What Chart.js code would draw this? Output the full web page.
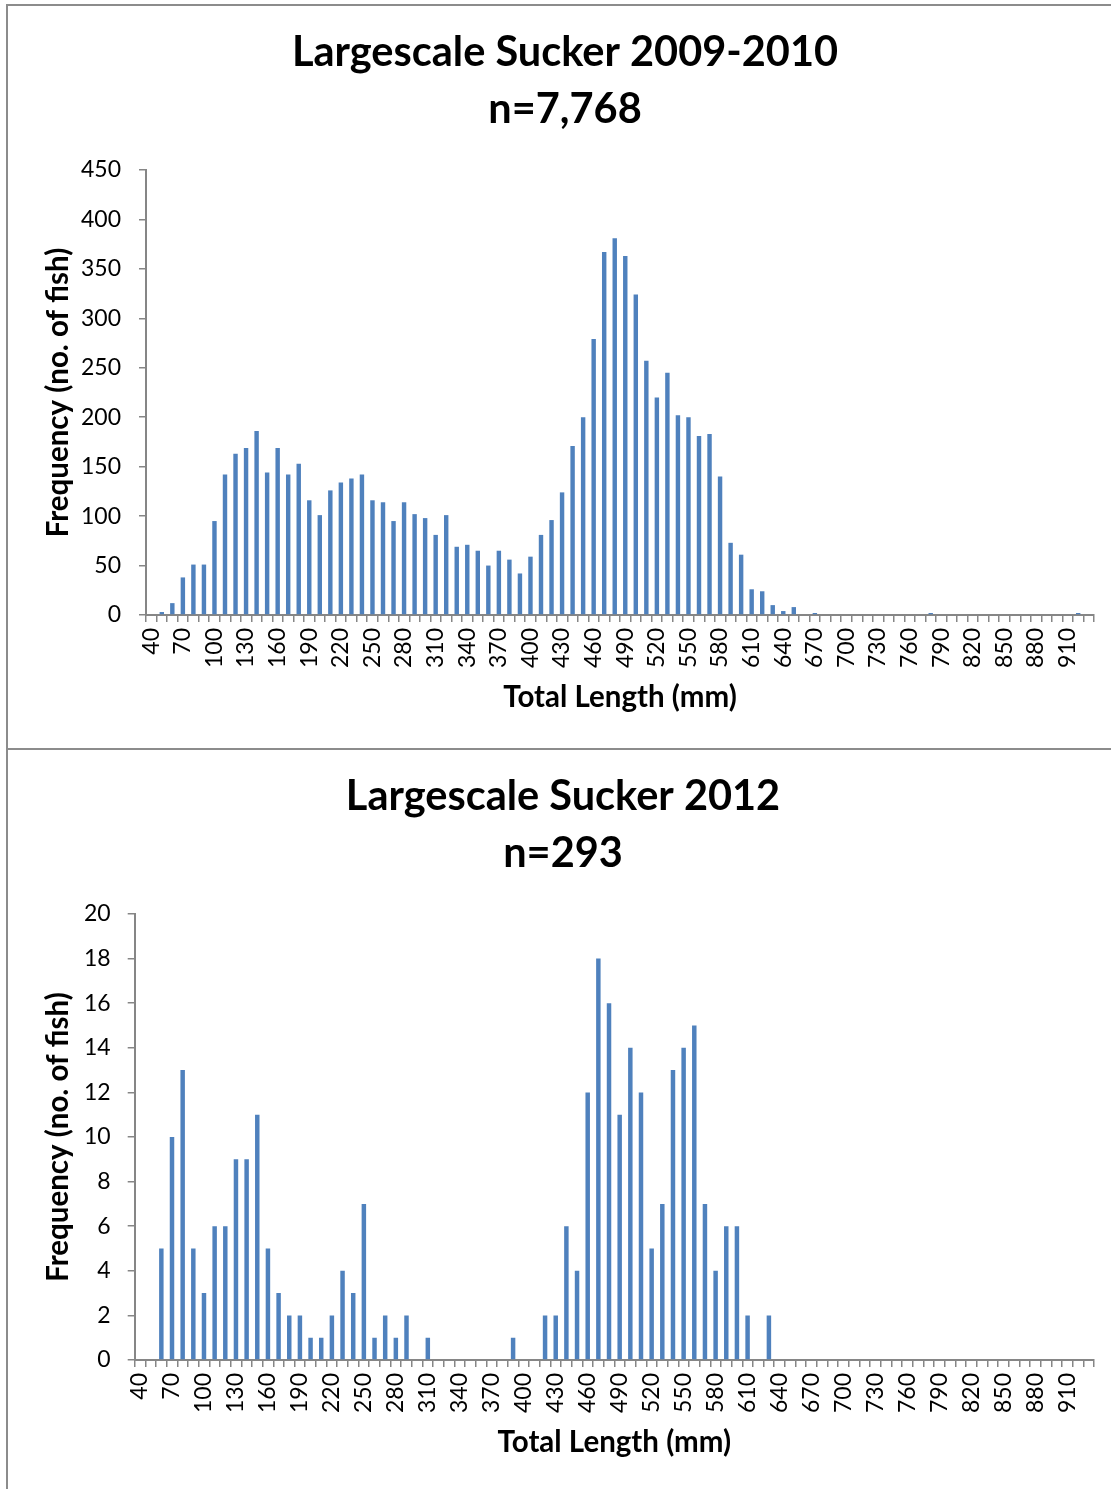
<!DOCTYPE html>
<html>
<head>
<meta charset="utf-8">
<title>Largescale Sucker length frequency</title>
<script src="https://cdn.jsdelivr.net/npm/chart.js@4.4.1/dist/chart.umd.min.js"></script>
<style>
  body { margin: 0; background: #fff; width: 1111px; height: 1489px; overflow: hidden; position: relative; }
  .frame { position: absolute; border: 2px solid #8c8c8c; box-sizing: border-box; }
  canvas { position: absolute; }
</style>
</head>
<body>
<div class="frame" style="left:6px;top:4px;width:1130px;height:746px"></div>
<div class="frame" style="left:6px;top:748px;width:1130px;height:760px"></div>
<canvas id="sucker_0910" width="1104" height="745" style="left:7px;top:4px"></canvas>
<canvas id="sucker_2012" width="1104" height="740" style="left:7px;top:749px"></canvas>
<script>
// total length bins (mm)
const lengths = [40, 50, 60, 70, 80, 90, 100, 110, 120, 130, 140, 150, 160, 170, 180, 190, 200, 210, 220, 230,
    240, 250, 260, 270, 280, 290, 300, 310, 320, 330, 340, 350, 360, 370, 380, 390, 400, 410, 420, 430,
    440, 450, 460, 470, 480, 490, 500, 510, 520, 530, 540, 550, 560, 570, 580, 590, 600, 610, 620, 630,
    640, 650, 660, 670, 680, 690, 700, 710, 720, 730, 740, 750, 760, 770, 780, 790, 800, 810, 820, 830,
    840, 850, 860, 870, 880, 890, 900, 910, 920, 930];

// number of fish per bin, 2009-2010 (n=7,768)
const fish_0910 = [0, 3, 12, 38, 51, 51, 95, 142, 163, 169, 186, 144, 169, 142, 153, 116, 101, 126, 134, 138,
    142, 116, 114, 95, 114, 102, 98, 81, 101, 69, 71, 65, 50, 65, 56, 42, 59, 81, 96, 124,
    171, 200, 279, 367, 381, 363, 324, 257, 220, 245, 202, 200, 181, 183, 140, 73, 61, 26, 24, 10,
    4, 8, 0, 2, 0, 0, 0, 0, 0, 0, 0, 0, 0, 0, 2, 0, 0, 0, 0, 0,
    0, 0, 0, 0, 0, 0, 0, 0, 2, 0];

// number of fish per bin, 2012 (n=293)
const fish_2012 = [0, 0, 5, 10, 13, 5, 3, 6, 6, 9, 9, 11, 5, 3, 2, 2, 1, 1, 2, 4,
    3, 7, 1, 2, 1, 2, 0, 1, 0, 0, 0, 0, 0, 0, 0, 1, 0, 0, 2, 2,
    6, 4, 12, 18, 16, 11, 14, 12, 5, 7, 13, 14, 15, 7, 4, 6, 6, 2, 0, 2,
    0, 0, 0, 0, 0, 0, 0, 0, 0, 0, 0, 0, 0, 0, 0, 0, 0, 0, 0, 0,
    0, 0, 0, 0, 0, 0, 0, 0, 0, 0];

const title_0910 = ["Largescale Sucker 2009-2010", "n=7,768"];
const title_2012 = ["Largescale Sucker 2012", "n=293"];
const x_title = "Total Length (mm)";
const y_title = "Frequency (no. of fish)";

Chart.defaults.font.family = "Lato";
Chart.defaults.color = "#000";

function length_chart(id, titleText, values, yMax, yStep, s) {
    return new Chart(id, {
        type: "bar",
        data: {
            labels: lengths,
            datasets: [{
                data: values,
                backgroundColor: "#4f81bd",
                borderWidth: 0,
                barPercentage: 0.42,
                categoryPercentage: 1
            }]
        },
        options: {
            responsive: false,
            animation: false,
            devicePixelRatio: 1,
            layout: { padding: { left: s.padLeft, right: 17, top: 0, bottom: 0 } },
            plugins: {
                legend: { display: false },
                tooltip: { enabled: false },
                title: {
                    display: true,
                    text: titleText,
                    color: "#000",
                    font: { size: 41.5, weight: "bold", lineHeight: "57px" },
                    padding: { top: s.titleTop, bottom: s.titleBottom }
                }
            },
            scales: {
                x: {
                    afterFit: function (scale) {
                        scale.height = s.xHeight;
                        // keep the plot edge fixed, labels may hang over
                        scale.paddingLeft = 0;
                        scale.paddingRight = 0;
                    },
                    grid: { offset: true, drawOnChartArea: false, tickLength: 7, color: "#868686", lineWidth: 1.5 },
                    border: { color: "#868686", width: 2 },
                    ticks: {
                        autoSkip: false,
                        minRotation: 90,
                        maxRotation: 90,
                        padding: 6,
                        font: { size: 23 },
                        callback: function (v, i) { return i % 3 === 0 ? lengths[i] : ""; }
                    },
                    title: {
                        display: true,
                        text: x_title,
                        font: { size: 29.5, weight: "bold" },
                        padding: { top: 0, bottom: s.xTitlePad }
                    }
                },
                y: {
                    min: 0,
                    max: yMax,
                    afterFit: function (scale) { scale.width = s.yWidth; },
                    grid: { drawOnChartArea: false, tickLength: 7, color: "#868686", lineWidth: 1.5 },
                    border: { color: "#868686", width: 2 },
                    ticks: { stepSize: yStep, padding: s.yTickPad, font: { size: 23 } },
                    title: {
                        display: true,
                        text: y_title,
                        font: { size: 29.5, weight: "bold" },
                        padding: { top: s.yTitlePad, bottom: 0 }
                    }
                }
            }
        }
    });
}

length_chart("sucker_0910", title_0910, fish_0910, 450, 50,
    { padLeft: 29, titleTop: 20.5, titleBottom: 31.5, xHeight: 134, xTitlePad: 34.3, yWidth: 110, yTickPad: 18, yTitlePad: 4.3 });
length_chart("sucker_2012", title_2012, fish_2012, 20, 2,
    { padLeft: 25, titleTop: 19.5, titleBottom: 31.5, xHeight: 129, xTitlePad: 29.3, yWidth: 102.7, yTickPad: 17, yTitlePad: 8.3 });
</script>
</body>
</html>
